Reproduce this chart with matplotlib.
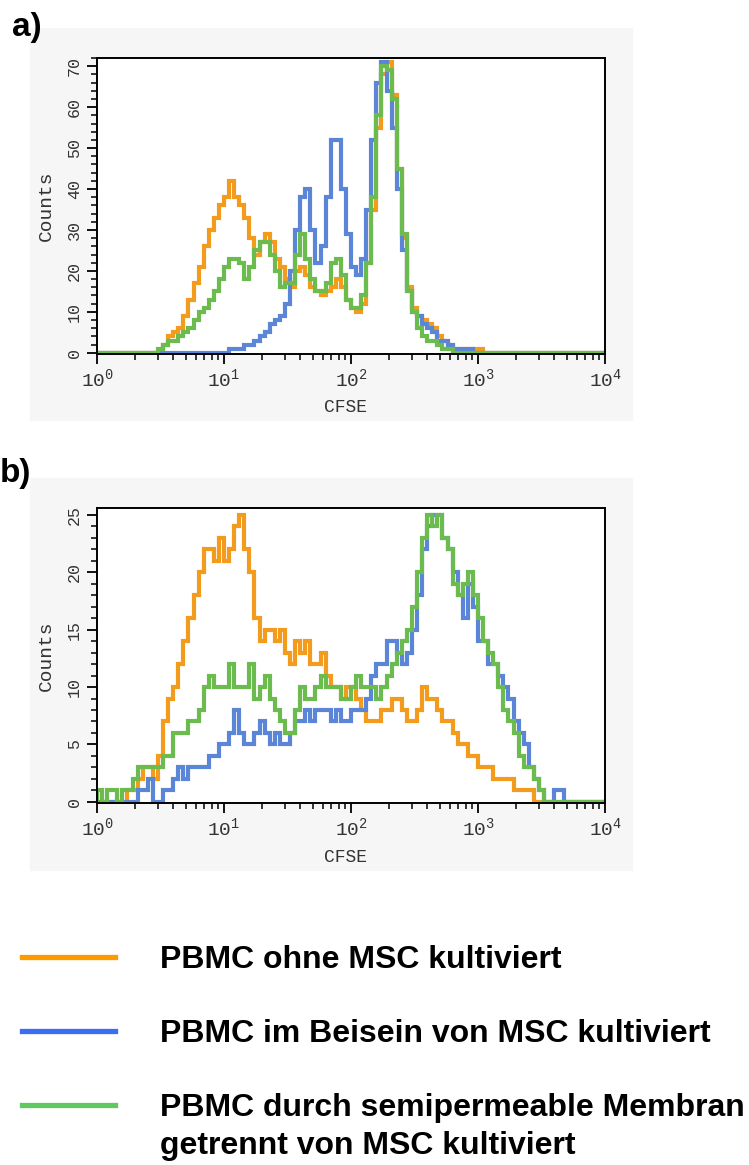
import numpy as np
import matplotlib
matplotlib.use('Agg')
import matplotlib.pyplot as plt
from matplotlib.lines import Line2D
from matplotlib.patches import Rectangle
from matplotlib.ticker import FixedLocator, FixedFormatter, LogLocator, NullFormatter, MultipleLocator

plt.rcParams['font.family'] = 'Liberation Mono'
plt.rcParams['mathtext.fontset'] = 'custom'
plt.rcParams['mathtext.rm'] = 'Liberation Mono'

# histogram channels: log10(CFSE) bins of 0.04 decades
a_start = 0.40
a_step = 0.04
a_orange = [0, 0, 0, 2, 4, 5, 6, 9, 13, 17, 21, 26, 30, 33, 36, 38, 42, 38, 36, 33,
            28, 24, 27, 29, 27, 23, 21, 18, 16, 20, 21, 19, 16, 15, 14, 15, 16, 18, 16, 13,
            11, 10, 12, 22, 35, 55, 68, 71, 63, 45, 28, 16, 11, 9, 8, 7, 6, 4, 3, 2,
            1, 1, 1, 1, 1, 1, 0]
a_blue = [0, 0, 0, 0, 0, 0, 0, 0, 0, 0, 0, 0, 0, 0, 0, 0, 1, 1, 1, 2,
          2, 3, 4, 5, 7, 8, 9, 12, 20, 30, 38, 40, 30, 22, 26, 38, 52, 52, 40, 29,
          21, 19, 23, 35, 52, 66, 71, 64, 55, 40, 25, 15, 10, 9, 7, 6, 5, 3, 3, 2,
          1, 1, 1, 1, 0, 0, 0]
a_green = [0, 0, 1, 2, 3, 3, 4, 5, 6, 8, 10, 11, 13, 15, 18, 21, 23, 23, 22, 18,
           21, 25, 27, 27, 24, 20, 16, 17, 17, 24, 29, 23, 18, 15, 15, 17, 22, 23, 19, 13,
           11, 11, 14, 22, 38, 58, 70, 69, 62, 45, 29, 15, 10, 6, 4, 3, 3, 2, 1, 1,
           0, 0, 0, 0, 0, 0, 0]

b_start = 0.0
b_step = 0.04
b_orange = [0, 0, 0, 0, 0, 0, 1, 1, 2, 3, 3, 2, 4, 7, 9, 10, 12, 14, 16, 18,
            20, 22, 22, 21, 23, 21, 22, 24, 25, 22, 20, 16, 14, 15, 15, 14, 15, 13, 12, 14,
            13, 14, 12, 12, 13, 11, 10, 10, 9, 10, 10, 9, 8, 7, 7, 7, 8, 8, 9, 9,
            8, 7, 7, 8, 10, 9, 9, 8, 7, 7, 6, 5, 5, 4, 4, 3, 3, 3, 2, 2,
            2, 2, 1, 1, 1, 1, 0, 0, 0, 0, 0, 0, 0]
b_blue = [0, 0, 0, 0, 0, 0, 0, 0, 1, 1, 2, 0, 0, 1, 1, 2, 3, 2, 3, 3,
          3, 3, 4, 4, 5, 5, 6, 8, 6, 5, 5, 6, 7, 6, 5, 6, 5, 5, 6, 7,
          7, 8, 7, 8, 8, 8, 7, 8, 7, 7, 8, 8, 8, 9, 11, 12, 12, 14, 14, 13,
          12, 13, 15, 18, 22, 24, 25, 25, 23, 22, 20, 18, 16, 19, 17, 14, 14, 12, 12, 11,
          10, 9, 7, 6, 5, 3, 2, 1, 0, 0, 1, 1, 0]
b_green = [1, 0, 1, 1, 0, 1, 1, 2, 3, 3, 3, 3, 3, 4, 4, 6, 6, 6, 7, 7,
           8, 10, 11, 10, 10, 10, 12, 10, 10, 10, 12, 9, 10, 11, 9, 8, 7, 6, 6, 8,
           10, 9, 9, 10, 11, 10, 10, 10, 9, 9, 10, 11, 10, 10, 10, 9, 10, 11, 12, 13,
           14, 15, 17, 20, 23, 25, 24, 25, 23, 22, 19, 18, 19, 20, 18, 16, 14, 13, 12, 10,
           8, 7, 6, 4, 3, 3, 2, 1, 0, 0, 0, 0, 0]

colors = {'orange': '#f29b1d', 'blue': '#5b86d7', 'green': '#6cbb4e'}
legend_colors = ['#ff9900', '#3a6cf4', '#5fc85f']
legend_labels = [['PBMC ohne MSC kultiviert'],
                 ['PBMC im Beisein von MSC kultiviert'],
                 ['PBMC durch semipermeable Membran', 'getrennt von MSC kultiviert']]

W, H = 749, 1165
fig = plt.figure(figsize=(W / 100, H / 100), dpi=100)

# faint grey backdrop behind each plot
for y0, y1 in [(28, 420), (478, 870)]:
    fig.add_artist(Rectangle((30 / W, 1 - y1 / H), (632 - 30) / W, (y1 - y0) / H,
                             transform=fig.transFigure, color='#f6f6f6', zorder=0))


def hist_edges(start, step, vals):
    e = start + step * np.arange(len(vals) + 1)
    e = np.concatenate(([0.0], e, [4.0]))
    v = np.concatenate(([0], vals, [0]))
    return 10 ** e, v


def panel(rect, start, step, series, ymax, ymaj, ymin, xlab_y):
    ax = fig.add_axes(rect)
    ax.set_facecolor('white')
    for name in ['orange', 'blue', 'green']:
        edges, v = hist_edges(start, step, series[name])
        ax.stairs(v, edges, color=colors[name], lw=3.0, baseline=None)
    ax.set_xscale('log')
    ax.set_xlim(1, 1e4)
    ax.set_ylim(-0.004 * ymax, ymax)
    ax.xaxis.set_major_locator(FixedLocator([1, 10, 100, 1000, 10000]))
    ax.xaxis.set_major_formatter(FixedFormatter([r'$\mathregular{10^{%d}}$' % k for k in range(5)]))
    ax.xaxis.set_minor_locator(LogLocator(base=10, subs=np.arange(2, 10)))
    ax.xaxis.set_minor_formatter(NullFormatter())
    ax.yaxis.set_major_locator(MultipleLocator(ymaj))
    ax.yaxis.set_minor_locator(MultipleLocator(ymin))
    ax.tick_params(axis='both', which='major', direction='out', length=7, width=1.3, color='black')
    ax.tick_params(axis='both', which='minor', direction='out', length=4, width=1.1, color='black')
    ax.tick_params(axis='x', which='major', labelsize=14, pad=3, labelcolor='#333333')
    ax.tick_params(axis='y', which='major', labelsize=12, pad=4, labelrotation=90, labelcolor='#333333')
    for lbl in ax.get_yticklabels():
        lbl.set_va('center')
    for s in ax.spines.values():
        s.set_linewidth(1.4)
    ax.set_ylabel('Counts', fontsize=14, color='#333333', va='center')
    ax.yaxis.set_label_coords(-0.10, 0.5)
    ax.set_xlabel('CFSE', fontsize=13, color='#333333', va='center')
    ax.xaxis.set_label_coords(0.49, xlab_y)
    return ax


ax_a = panel([97 / W, 1 - 354 / H, 508 / W, 296 / H], a_start, a_step,
             {'orange': a_orange, 'blue': a_blue, 'green': a_green}, 72, 10, 2, -0.182)
ax_b = panel([97 / W, 1 - 803 / H, 508 / W, 295 / H], b_start, b_step,
             {'orange': b_orange, 'blue': b_blue, 'green': b_green}, 25.6, 5, 1, -0.186)

fig.text(12 / W, 1 - 12 / H, 'a)', fontsize=24, fontweight='bold', family='Liberation Sans', va='top')
fig.text(0 / W, 1 - 458 / H, 'b)', fontsize=24, fontweight='bold', family='Liberation Sans', va='top')

# legend drawn by hand below the plots
for yc, c, lines in zip([957, 1031, 1105], legend_colors, legend_labels):
    fig.add_artist(Line2D([22 / W, 115 / W], [1 - yc / H, 1 - yc / H], color=c, lw=3.8,
                          transform=fig.transFigure))
    for j, txt in enumerate(lines):
        fig.text(160 / W, 1 - (yc + 11 + 38 * j) / H, txt, fontsize=23, fontweight='bold',
                 family='Liberation Sans', va='baseline')

fig.savefig('out.png', dpi=100)
